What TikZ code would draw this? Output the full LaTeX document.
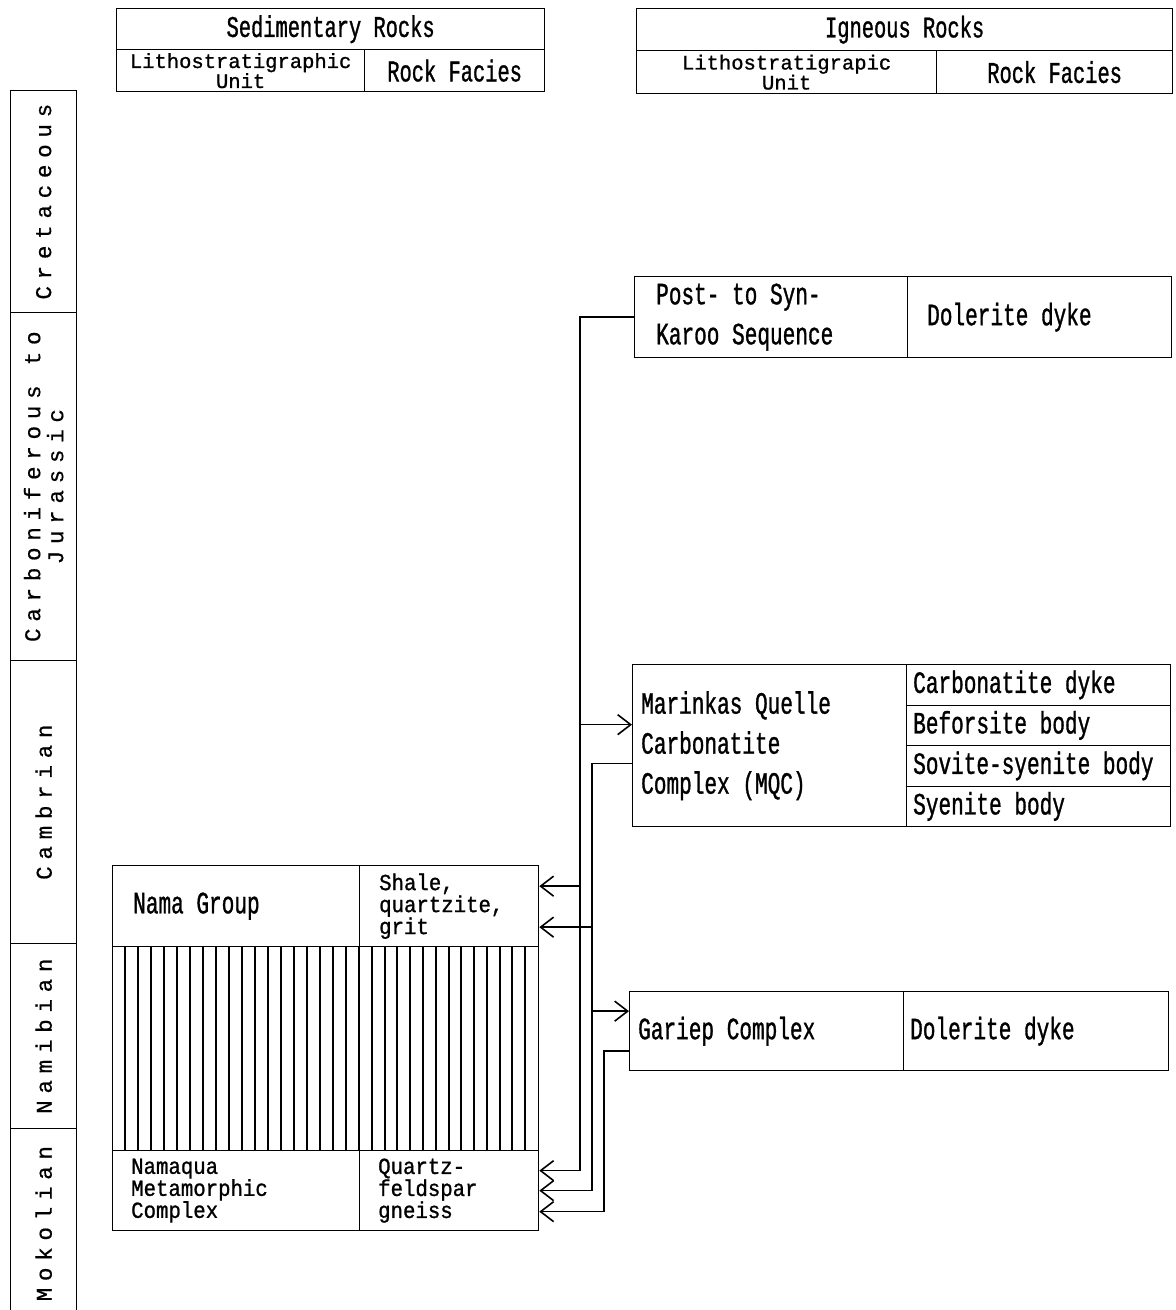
\documentclass[tikz,border=0pt]{standalone}
\usepackage{fontspec}
\usetikzlibrary{arrows.meta, positioning}
\newfontfamily\cellfont[FakeStretch=0.68, FakeBold=1]{Liberation Mono}
\newfontfamily\tightfont[FakeStretch=0.9, FakeBold=1]{Liberation Mono}
\newfontfamily\unitfont[FakeBold=1]{Liberation Mono}
\newfontfamily\periodfont[LetterSpace=30, FakeBold=0.6]{Liberation Mono}
\newcommand{\overlaplines}{\lineskiplimit=-100pt\lineskip=0pt}

\begin{document}
\begin{tikzpicture}[x=1pt, y=-1pt, >={Straight Barb[length=13pt,width=20pt]}]
  \tikzstyle{cellbox} = [rectangle, draw, line width=1.3pt, inner sep=0pt, anchor=north west]
  \tikzstyle{periodtext} = [rotate=90, align=center, font=\periodfont\fontsize{22.5}{23}\selectfont\overlaplines]
  \tikzstyle{headtext} = [align=center, inner sep=0pt, font=\cellfont\fontsize{30}{18}\selectfont]
  \tikzstyle{unittext} = [align=center, inner sep=0pt, font=\unitfont\fontsize{20.5}{20}\selectfont\overlaplines]
  \tikzstyle{celltext} = [anchor=west, align=left, inner sep=0pt, font=\cellfont\fontsize{31}{40}\selectfont]
  \tikzstyle{tighttext} = [anchor=west, align=left, inner sep=0pt, font=\tightfont\fontsize{23}{22}\selectfont\overlaplines]
  \tikzstyle{hatchline} = [line width=1.5pt]
  \tikzstyle{link} = [line width=1.6pt]

  \useasboundingbox (0,0) rectangle (1176,1310);

  % time scale
  \node[cellbox, minimum width=66, minimum height=222] (cretaceous) at (10,90) {};
  \node[cellbox, minimum width=66, minimum height=348] (carbjur) at (10,312) {};
  \node[cellbox, minimum width=66, minimum height=283] (cambrian) at (10,660) {};
  \node[cellbox, minimum width=66, minimum height=185] (namibian) at (10,943) {};
  \node[cellbox, minimum width=66, minimum height=190] (mokolian) at (10,1128) {};
  \node[periodtext] at (cretaceous.center) {Cretaceous};
  \node[periodtext] at (carbjur.center) {Carboniferous to\\Jurassic};
  \node[periodtext] at (cambrian.center) {Cambrian};
  \node[periodtext] at (namibian.center) {Namibian};
  \node[periodtext] at (mokolian.center) {Mokolian};

  % headers
  \node[cellbox, minimum width=428, minimum height=41] (sedhead) at (116,8) {};
  \node[cellbox, minimum width=248, minimum height=42] (sedunit) at (116,49) {};
  \node[cellbox, minimum width=180, minimum height=42] (sedfacies) at (364,49) {};
  \node[headtext] at (sedhead.center) {Sedimentary Rocks};
  \node[unittext] at (sedunit.center) {Lithostratigraphic\\Unit};
  \node[headtext] at (sedfacies.center) {Rock Facies};

  \node[cellbox, minimum width=536, minimum height=42] (ighead) at (636,8) {};
  \node[cellbox, minimum width=300, minimum height=43] (igunit) at (636,50) {};
  \node[cellbox, minimum width=236, minimum height=43] (igfacies) at (936,50) {};
  \node[headtext] at (ighead.center) {Igneous Rocks};
  \node[unittext] at (igunit.center) {Lithostratigrapic\\Unit};
  \node[headtext] at (igfacies.center) {Rock Facies};

  % igneous units
  \node[cellbox, minimum width=273, minimum height=81] (postunit) at (634,276) {};
  \node[cellbox, minimum width=264, minimum height=81] (postfacies) at (907,276) {};
  \node[celltext, right=22pt of postunit.west] {Post- to Syn-\\Karoo Sequence};
  \node[celltext, right=20pt of postfacies.west] {Dolerite dyke};

  \node[cellbox, minimum width=274, minimum height=162] (mqcunit) at (632,664) {};
  \node[cellbox, minimum width=264, minimum height=40.5] (mqcdyke) at (906,664) {};
  \node[cellbox, minimum width=264, minimum height=40.5] (mqcbefor) at (906,704.5) {};
  \node[cellbox, minimum width=264, minimum height=40.5] (mqcsovite) at (906,745) {};
  \node[cellbox, minimum width=264, minimum height=40.5] (mqcsyenite) at (906,785.5) {};
  \node[celltext, right=9pt of mqcunit.west] {Marinkas Quelle\\Carbonatite\\Complex (MQC)};
  \node[celltext, right=7pt of mqcdyke.west] {Carbonatite dyke};
  \node[celltext, right=7pt of mqcbefor.west] {Beforsite body};
  \node[celltext, right=7pt of mqcsovite.west] {Sovite-syenite body};
  \node[celltext, right=7pt of mqcsyenite.west] {Syenite body};

  \node[cellbox, minimum width=274, minimum height=79] (garunit) at (629,991) {};
  \node[cellbox, minimum width=265, minimum height=79] (garfacies) at (903,991) {};
  \node[celltext, right=9pt of garunit.west] {Gariep Complex};
  \node[celltext, right=7pt of garfacies.west] {Dolerite dyke};

  % sedimentary units
  \node[cellbox, minimum width=247, minimum height=81] (namaunit) at (112,865) {};
  \node[cellbox, minimum width=179, minimum height=81] (namafacies) at (359,865) {};
  \node[celltext, right=21pt of namaunit.west] {Nama Group};
  \node[tighttext, right=20pt of namafacies.west] {Shale,\\quartzite,\\grit};

  \node[cellbox, minimum width=426, minimum height=204] (hatch) at (112,946) {};
  \foreach \i in {1,...,18}
    \draw[hatchline] (112+\i*13,946) -- ++(0,204);
  \draw[hatchline] (359,946) -- ++(0,204);
  \foreach \i in {1,...,13}
    \draw[hatchline] ({359+round(\i*12.79)},946) -- ++(0,204);

  \node[cellbox, minimum width=247, minimum height=80] (namaquaunit) at (112,1150) {};
  \node[cellbox, minimum width=179, minimum height=80] (namaquafacies) at (359,1150) {};
  \node[tighttext, right=19pt of namaquaunit.west] {Namaqua\\Metamorphic\\Complex};
  \node[tighttext, right=19pt of namaquafacies.west] {Quartz-\\feldspar\\gneiss};

  % connectors
  \coordinate (busA) at (580,0);
  \coordinate (busB) at (592,0);
  \coordinate (busC) at (604,0);
  \coordinate (mqcin) at ([yshift=21pt]mqcunit.west);
  \coordinate (mqcout) at ([yshift=-18pt]mqcunit.west);
  \coordinate (namain1) at ([yshift=20pt]namafacies.east);
  \coordinate (namain2) at ([yshift=-21pt]namafacies.east);
  \coordinate (garin) at ([yshift=20pt]garunit.west);
  \coordinate (garout) at ([yshift=-20pt]garunit.west);
  \coordinate (namaquain1) at ([yshift=20pt]namaquafacies.east);
  \coordinate (namaquain2) at (namaquafacies.east);
  \coordinate (namaquain3) at ([yshift=-21pt]namaquafacies.east);

  \draw[link, ->] (postunit.west) -| (busA |- namaquain1) -- (namaquain1);
  \draw[link, ->] (busA |- mqcin) -- (mqcin);
  \draw[link, ->] (busA |- namain1) -- (namain1);

  \draw[link, ->] (mqcout) -| (busB |- namaquain2) -- (namaquain2);
  \draw[link, ->] (busB |- namain2) -- (namain2);
  \draw[link, ->] (busB |- garin) -- (garin);

  \draw[link, ->] (garout) -| (busC |- namaquain3) -- (namaquain3);
\end{tikzpicture}
\end{document}
